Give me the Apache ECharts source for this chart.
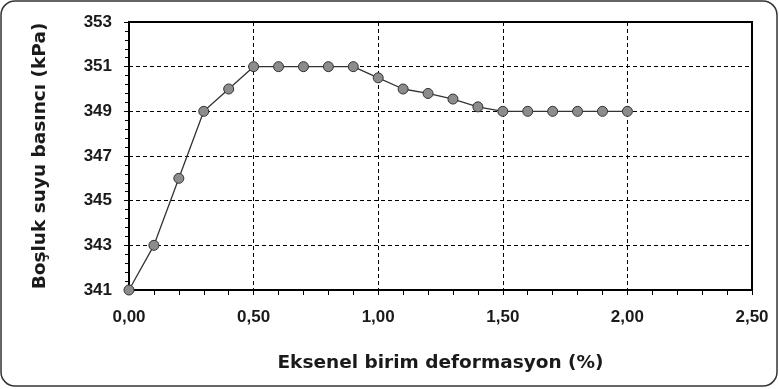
<!DOCTYPE html>
<html>
<head>
<meta charset="utf-8">
<script src="https://cdn.jsdelivr.net/npm/echarts@6/dist/echarts.min.js"></script>
<style>
html,body{margin:0;padding:0;background:#fff;}
#chart{width:779px;height:389px;}
</style>
</head>
<body>
<div id="chart"></div>
<script>
const strainPct = [0.0, 0.1, 0.2, 0.3, 0.4, 0.5, 0.6, 0.7, 0.8, 0.9, 1.0, 1.1, 1.2, 1.3, 1.4, 1.5, 1.6, 1.7, 1.8, 1.9, 2.0];
const porePressure = [341, 343, 346, 349, 350, 351, 351, 351, 351, 351, 350.5, 350.0, 349.8, 349.55, 349.2, 349, 349, 349, 349, 349, 349];
const xTitle = 'Eksenel birim deformasyon (%)';
const yTitle = 'Boşluk suyu basıncı (kPa)';

const chart = echarts.init(document.getElementById('chart'), null, {renderer: 'canvas'});
const titleFont = '"DejaVu Sans", Verdana, sans-serif';
const tickFont = '"Liberation Sans", Arial, sans-serif';
const txt = '#1a1a1a';

chart.setOption({
  animation: false,
  backgroundColor: '#fff',
  graphic: [{
    type: 'rect',
    shape: {x: 1, y: 1, width: 776, height: 385, r: 14},
    style: {fill: 'none', stroke: '#333', lineWidth: 1.5},
    silent: true,
    z: -1
  }],
  grid: {left: 129, right: 27, top: 22, bottom: 99, show: true, borderColor: '#000', borderWidth: 2, backgroundColor: 'transparent'},
  xAxis: {
    type: 'value', min: 0, max: 2.5, interval: 0.5,
    name: xTitle, nameLocation: 'middle', nameGap: 64,
    nameTextStyle: {fontFamily: titleFont, fontWeight: 'bold', fontSize: 18.5, color: txt},
    axisLine: {show: true, lineStyle: {color: '#000', width: 2}},
    axisTick: {show: true, length: 5, lineStyle: {color: '#000', width: 1}},
    minorTick: {show: true, splitNumber: 5, length: 5, lineStyle: {color: '#000', width: 1}},
    axisLabel: {fontFamily: tickFont, fontWeight: 'bold', fontSize: 17, color: txt, margin: 19,
      formatter: v => v.toFixed(2).replace('.', ',')},
    splitLine: {show: true, lineStyle: {color: '#000', type: [4, 3], width: 1}}
  },
  yAxis: {
    type: 'value', min: 341, max: 353, interval: 2,
    name: yTitle, nameLocation: 'middle', nameGap: 79,
    nameTextStyle: {fontFamily: titleFont, fontWeight: 'bold', fontSize: 18.5, color: txt},
    axisLine: {show: true, lineStyle: {color: '#000', width: 2}},
    axisTick: {show: true, length: 5, lineStyle: {color: '#000', width: 1}},
    minorTick: {show: true, splitNumber: 5, length: 4, lineStyle: {color: '#000', width: 1}},
    axisLabel: {fontFamily: tickFont, fontWeight: 'bold', fontSize: 17, color: txt, margin: 17},
    splitLine: {show: true, lineStyle: {color: '#000', type: [4, 3], width: 1}}
  },
  series: [{
    type: 'line',
    data: strainPct.map((x, i) => [x, porePressure[i]]),
    symbol: 'circle', symbolSize: 10,
    lineStyle: {color: '#333', width: 1.3},
    itemStyle: {color: '#8c8c8c', borderColor: '#333', borderWidth: 1},
    clip: false
  }]
});
</script>
</body>
</html>
